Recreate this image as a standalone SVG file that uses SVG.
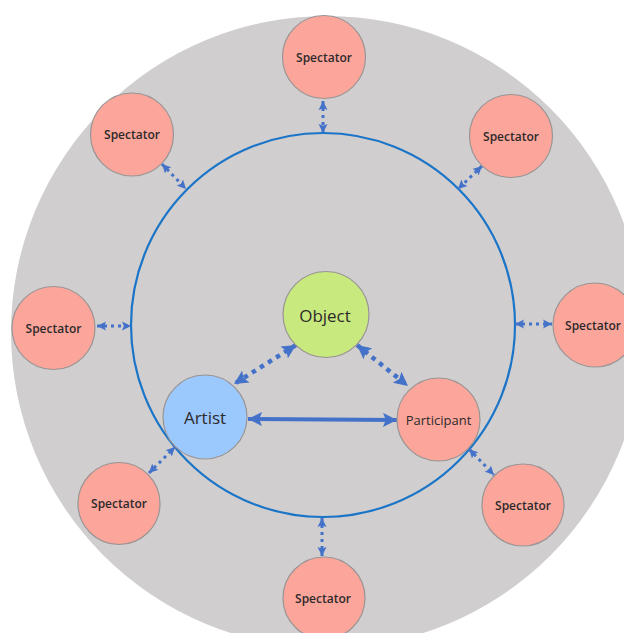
<svg xmlns="http://www.w3.org/2000/svg" width="624" height="633" viewBox="0 0 624 633">
  <style>
    .field { fill: #d0cecf; }
    .ring { fill: none; stroke: #1a74c7; stroke-width: 2.2; }
    .node { stroke: #9a9494; stroke-width: 1.2; }
    .spectator { fill: #fca69b; }
    .object { fill: #c8e97e; }
    .artist { fill: #9bc8fd; }
    .label { font-family: "Open Sans", "Liberation Sans", sans-serif; fill: #2e2a2b; text-anchor: middle; dominant-baseline: central; }
    .small { font-size: 12px; font-weight: 600; }
    .big { font-size: 17px; font-weight: 500; }
    .mid { font-size: 13px; font-weight: 500; }
    .dot-out { stroke: #4472c9; stroke-width: 3; stroke-dasharray: 3 4; fill: none; }
    .dot-in { stroke: #4472c9; stroke-width: 4.5; stroke-dasharray: 4.5 5; fill: none; }
    .solid { stroke: #4472c9; stroke-width: 4; fill: none; }
  </style>
  <defs>
    <marker id="headSmall" viewBox="0 0 10 10" refX="10" refY="5" markerWidth="9" markerHeight="10" markerUnits="userSpaceOnUse" orient="auto-start-reverse">
      <path d="M0,0 L10,5 L0,10 L2,5 Z" fill="#4472c9"/>
    </marker>
    <marker id="headBig" viewBox="0 0 10 10" refX="10" refY="5" markerWidth="14" markerHeight="14" markerUnits="userSpaceOnUse" orient="auto-start-reverse">
      <path d="M0,0 L10,5 L0,10 L2,5 Z" fill="#4472c9"/>
    </marker>
  </defs>

  <!-- audience field and boundary -->
  <circle class="field" cx="327" cy="332" r="316"/>
  <circle class="ring" cx="323" cy="325" r="192"/>

  <g id="connectors">
    <line class="dot-out" x1="323" y1="101" x2="323" y2="133" marker-start="url(#headSmall)" marker-end="url(#headSmall)"/>
    <line class="dot-out" x1="162" y1="164" x2="186" y2="189" marker-start="url(#headSmall)" marker-end="url(#headSmall)"/>
    <line class="dot-out" x1="482" y1="166" x2="458" y2="189" marker-start="url(#headSmall)" marker-end="url(#headSmall)"/>
    <line class="dot-out" x1="97" y1="326" x2="131" y2="326" marker-start="url(#headSmall)" marker-end="url(#headSmall)"/>
    <line class="dot-out" x1="515" y1="324" x2="552" y2="324" marker-start="url(#headSmall)" marker-end="url(#headSmall)"/>
    <line class="dot-out" x1="149" y1="473" x2="175" y2="447" marker-start="url(#headSmall)" marker-end="url(#headSmall)"/>
    <line class="dot-out" x1="322" y1="518" x2="322" y2="556" marker-start="url(#headSmall)" marker-end="url(#headSmall)"/>
    <line class="dot-out" x1="469" y1="449" x2="494" y2="475" marker-start="url(#headSmall)" marker-end="url(#headSmall)"/>
    <line class="dot-in" x1="296" y1="345" x2="234" y2="384" marker-start="url(#headBig)" marker-end="url(#headBig)"/>
    <line class="dot-in" x1="357" y1="345" x2="408" y2="386" marker-start="url(#headBig)" marker-end="url(#headBig)"/>
    <line class="solid" x1="248" y1="419" x2="397" y2="420" marker-start="url(#headBig)" marker-end="url(#headBig)"/>
  </g>

  <g id="spectator-top">
    <circle class="node spectator" cx="324" cy="57" r="41.5"/>
    <text class="label small" x="324" y="57">Spectator</text>
  </g>
  <g id="spectator-top-left">
    <circle class="node spectator" cx="132" cy="134.5" r="41.5"/>
    <text class="label small" x="132" y="134.5">Spectator</text>
  </g>
  <g id="spectator-top-right">
    <circle class="node spectator" cx="511" cy="136" r="41.5"/>
    <text class="label small" x="511" y="136">Spectator</text>
  </g>
  <g id="spectator-left">
    <circle class="node spectator" cx="53.5" cy="328" r="41.5"/>
    <text class="label small" x="53.5" y="328">Spectator</text>
  </g>
  <g id="spectator-right">
    <circle class="node spectator" cx="595" cy="325" r="42"/>
    <text class="label small" x="593" y="325">Spectator</text>
  </g>
  <g id="spectator-bottom-left">
    <circle class="node spectator" cx="119" cy="503.5" r="41"/>
    <text class="label small" x="119" y="503.5">Spectator</text>
  </g>
  <g id="spectator-bottom">
    <circle class="node spectator" cx="324" cy="598" r="41"/>
    <text class="label small" x="323" y="598">Spectator</text>
  </g>
  <g id="spectator-bottom-right">
    <circle class="node spectator" cx="523" cy="505" r="41"/>
    <text class="label small" x="523" y="505">Spectator</text>
  </g>

  <g id="object">
    <circle class="node object" cx="326" cy="314.5" r="43"/>
    <text class="label big" x="325" y="315">Object</text>
  </g>
  <g id="artist">
    <circle class="node artist" cx="205" cy="417" r="42"/>
    <text class="label big" x="205" y="417">Artist</text>
  </g>
  <g id="participant">
    <circle class="node spectator" cx="438.5" cy="419.5" r="41.5"/>
    <text class="label mid" x="438.5" y="420">Participant</text>
  </g>
</svg>
